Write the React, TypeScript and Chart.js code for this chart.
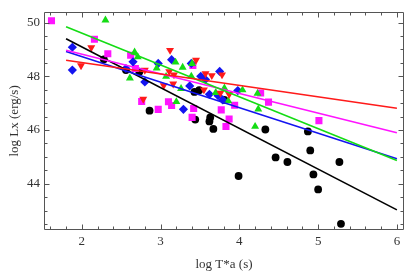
import React, { useEffect, useRef } from "react";
import { Chart, registerables } from "chart.js";

Chart.register(...registerables);

// Axis ticks
const xTickValues = [2, 3, 4, 5, 6];
const yTickValues = [44, 46, 48, 50];
const xMinorStep = 0.2;
const yMinorStep = 0.5;
const xRange = [1.52, 6.09];
const yRange = [42.28, 50.4];

// Black circles
const blackX = [2.28, 2.56, 2.73, 2.86, 3.43, 3.49, 3.44, 3.63, 3.62, 3.67, 3.81, 4.33, 4.87, 3.99, 4.46, 4.61, 4.9, 4.94, 5.0, 5.27, 5.29];
const blackY = [48.63, 48.23, 48.17, 46.72, 47.42, 47.48, 46.39, 46.47, 46.32, 46.04, 47.12, 46.02, 45.95, 44.29, 44.98, 44.81, 45.24, 44.35, 43.79, 44.81, 42.51];

// Blue diamonds
const blueX = [1.88, 1.88, 2.56, 2.65, 2.8, 2.97, 3.14, 3.29, 3.39, 3.37, 3.51, 3.57, 3.62, 3.73, 3.79, 3.75, 3.98];
const blueY = [49.08, 48.23, 48.29, 48.54, 47.79, 48.48, 48.62, 46.77, 48.48, 47.64, 48.0, 47.88, 47.33, 47.28, 47.12, 48.18, 47.47];

// Red down-triangles
const redX = [1.99, 2.12, 2.78, 2.8, 3.04, 3.12, 3.11, 3.17, 3.16, 3.45, 3.57, 3.65, 3.78, 3.55, 3.76, 3.87];
const redY = [48.4, 49.07, 47.15, 48.23, 47.66, 48.97, 48.18, 48.06, 47.72, 48.6, 48.1, 48.03, 48.06, 47.5, 47.38, 47.33];

// Green up-triangles
const greenX = [2.3, 2.61, 2.67, 2.71, 2.95, 3.07, 3.19, 3.2, 3.28, 3.26, 3.39, 3.4, 3.7, 3.86, 3.81, 4.04, 4.23, 4.24, 4.2];
const greenY = [50.09, 47.93, 48.9, 48.72, 48.3, 47.99, 48.52, 47.05, 48.33, 47.54, 48.0, 48.47, 47.39, 47.08, 47.56, 47.49, 47.36, 46.78, 46.13];

// Magenta squares
const magentaX = [1.615, 2.16, 2.33, 2.62, 2.68, 2.76, 2.97, 3.1, 3.14, 3.42, 3.4, 3.41, 3.77, 3.94, 3.87, 3.83, 4.27, 4.37, 5.01];
const magentaY = [50.07, 49.38, 48.84, 48.78, 48.29, 47.06, 46.77, 47.05, 46.91, 46.8, 46.47, 48.4, 46.75, 46.92, 46.41, 46.13, 47.38, 47.04, 46.35];

// Fitted lines: endpoints (x from lineX, y values)
const lineX = [1.8, 6.0];
const redLineY = [48.6, 46.81];
const greenLineY = [49.84, 44.87];
const magentaLineY = [48.97, 45.9];
const blueLineY = [48.92, 44.93];
const blackLineY = [49.4, 43.03];

const RED = "#ff1a1a";
const GREEN = "#14dc14";
const BLUE = "#1414f0";
const MAGENTA = "#ff14ff";
const BLACK = "#000000";

const FONT = "'Liberation Serif', 'DejaVu Serif', serif";

const toPts = (xs: number[], ys: number[]) => xs.map((x, i) => ({ x, y: ys[i] }));

const framePlugin = {
  id: "frameTicks",
  afterDatasetsDraw(chart: any) {
    const { ctx, chartArea, scales } = chart;
    const { left, right, top, bottom } = chartArea;
    const xs = scales.x;
    const ys = scales.y;
    ctx.save();
    ctx.strokeStyle = "#555";
    ctx.lineWidth = 1;
    const L = Math.round(left) + 0.5;
    const R = Math.round(right) - 0.5;
    const T = Math.round(top) + 0.5;
    const B = Math.round(bottom) - 0.5;
    ctx.beginPath();
    ctx.rect(L, T, R - L, B - T);
    ctx.stroke();
    ctx.beginPath();
    // x ticks
    const x0 = Math.ceil(xRange[0] / xMinorStep) * xMinorStep;
    for (let v = x0; v <= xRange[1] + 1e-9; v += xMinorStep) {
      const isMajor = Math.abs(v - Math.round(v)) < 1e-6;
      const len = isMajor ? 5 : 3;
      const px = Math.round(xs.getPixelForValue(v)) + 0.5;
      ctx.moveTo(px, B);
      ctx.lineTo(px, B - len);
      ctx.moveTo(px, T);
      ctx.lineTo(px, T + len);
    }
    const y0 = Math.ceil(yRange[0] / yMinorStep) * yMinorStep;
    for (let v = y0; v <= yRange[1] + 1e-9; v += yMinorStep) {
      const isMajor = Math.abs(v / 2 - Math.round(v / 2)) < 1e-6;
      const len = isMajor ? 5 : 3;
      const py = Math.round(ys.getPixelForValue(v)) + 0.5;
      ctx.moveTo(L, py);
      ctx.lineTo(L + len, py);
      ctx.moveTo(R, py);
      ctx.lineTo(R - len, py);
    }
    ctx.stroke();
    ctx.restore();
  },
};

export default function App() {
  const ref = useRef<HTMLCanvasElement | null>(null);
  useEffect(() => {
    if (!ref.current) return;
    const lineDs = (ys: number[], color: string) => ({
      type: "line" as const,
      data: toPts(lineX, ys),
      borderColor: color,
      borderWidth: 1.6,
      pointRadius: 0,
      fill: false,
    });
    const chart = new Chart(ref.current, {
      type: "scatter",
      data: {
        datasets: [
          lineDs(redLineY, RED),
          lineDs(greenLineY, GREEN),
          lineDs(magentaLineY, MAGENTA),
          lineDs(blueLineY, BLUE),
          lineDs(blackLineY, BLACK),
          {
            data: toPts(redX, redY),
            pointStyle: "triangle",
            rotation: 180,
            radius: 4.6,
            backgroundColor: RED,
            borderColor: RED,
            borderWidth: 0,
          } as any,
          {
            data: toPts(greenX, greenY),
            pointStyle: "triangle",
            radius: 4.6,
            backgroundColor: GREEN,
            borderColor: GREEN,
            borderWidth: 0,
          } as any,
          {
            data: toPts(blueX, blueY),
            pointStyle: "rectRot",
            radius: 4.6,
            backgroundColor: BLUE,
            borderColor: BLUE,
            borderWidth: 0,
          } as any,
          {
            data: toPts(magentaX, magentaY),
            pointStyle: "rect",
            radius: 5,
            backgroundColor: MAGENTA,
            borderColor: MAGENTA,
            borderWidth: 0,
          } as any,
          {
            data: toPts(blackX, blackY),
            pointStyle: "circle",
            radius: 3.9,
            backgroundColor: BLACK,
            borderColor: BLACK,
            borderWidth: 0,
          } as any,
        ],
      },
      options: {
        responsive: false,
        animation: false,
        devicePixelRatio: 1,
        layout: { padding: { left: 0, top: 7, right: 8, bottom: 0 } },
        plugins: { legend: { display: false }, tooltip: { enabled: false } },
        scales: {
          x: {
            type: "linear",
            min: xRange[0],
            max: xRange[1],
            grid: { display: false, drawTicks: false },
            border: { display: false },
            afterBuildTicks: (s: any) => {
              s.ticks = xTickValues.map((v) => ({ value: v }));
            },
            afterFit: (s: any) => {
              s.height = 48;
            },
            ticks: {
              padding: 4,
              color: "#333",
              font: { family: FONT, size: 13 },
              callback: (v: any) => String(v),
            },
            title: {
              display: true,
              text: "log T*a (s)",
              color: "#333",
              font: { family: FONT, size: 13 },
              padding: { top: 0, bottom: 6 },
            },
          },
          y: {
            type: "linear",
            min: yRange[0],
            max: yRange[1],
            grid: { display: false, drawTicks: false },
            border: { display: false },
            afterBuildTicks: (s: any) => {
              s.ticks = yTickValues.map((v) => ({ value: v }));
            },
            afterFit: (s: any) => {
              s.width = 44;
            },
            ticks: {
              padding: 4,
              color: "#333",
              font: { family: FONT, size: 13 },
              callback: (v: any) => String(v),
            },
            title: {
              display: true,
              text: "log Lx (erg/s)",
              color: "#333",
              font: { family: FONT, size: 13 },
              padding: { top: 7, bottom: 0 },
            },
          },
        },
      },
      plugins: [framePlugin],
    } as any);
    return () => chart.destroy();
  }, []);
  return (
    <div style={{ position: "absolute", left: 0, top: 0, width: 412, height: 278, background: "#fff" }}>
      <canvas ref={ref} width={412} height={278} style={{ display: "block" }} />
    </div>
  );
}
